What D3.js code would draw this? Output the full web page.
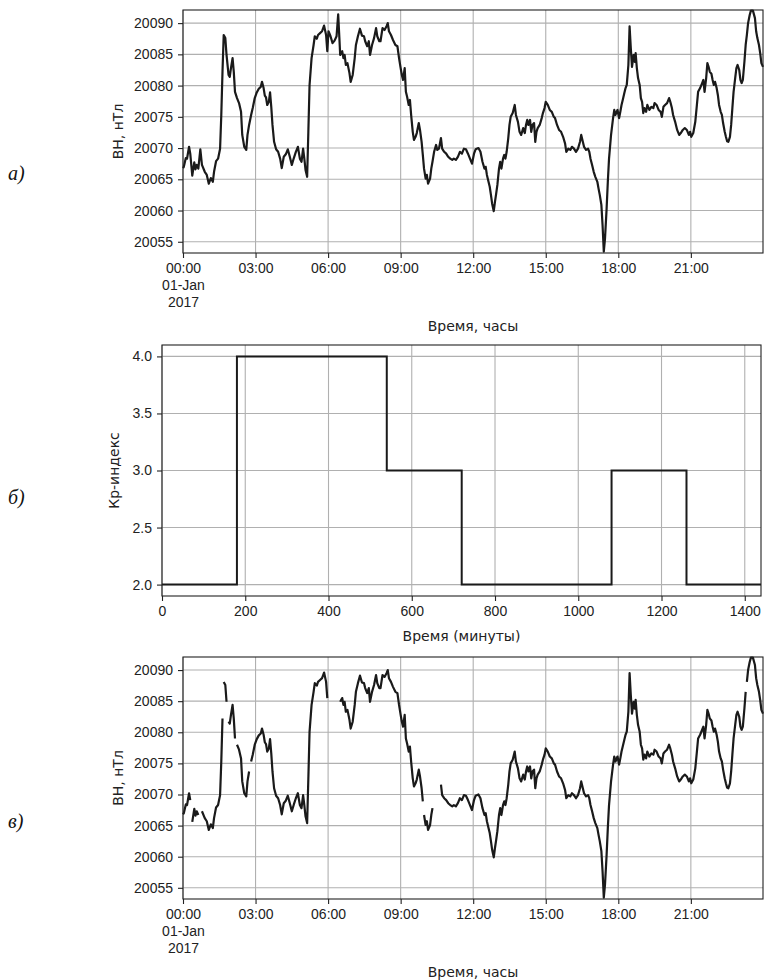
<!DOCTYPE html>
<html>
<head>
<meta charset="utf-8">
<script src="https://cdn.jsdelivr.net/npm/d3@7"></script>
<style>
  body { margin: 0; background: #fff; }
  svg { display: block; font-family: "DejaVu Sans", sans-serif; }
  .tick text { font-size: 14px; fill: #222; }
  .tick line { stroke: #222; stroke-width: 1.1; }
  .domain { display: none; }
  .grid line { stroke: #b0b0b0; stroke-width: 1.1; }
  .spine { fill: none; stroke: #222; stroke-width: 1.1; }
  .label { font-size: 14px; fill: #222; }
  .panel-tag { font-family: "Liberation Serif", serif; font-style: italic; font-size: 20px; fill: #111; }
</style>
</head>
<body>
<script>
// BH readings, [minute of day, nT], read off panel a)
const bhReadings = [
  [0, 20066.8], [2, 20067.0], [7, 20068.4], [10, 20068.3], [15, 20070.2], [18, 20069.1], [23, 20065.6],
  [28, 20067.7], [31, 20066.6], [34, 20067.3], [38, 20066.7], [43, 20069.8], [47, 20067.3], [54, 20066.2],
  [59, 20065.7], [64, 20064.3], [69, 20065.2], [74, 20064.6], [77, 20066.2], [82, 20067.9], [87, 20068.3],
  [92, 20069.9], [95, 20075.3], [98, 20082.2], [101, 20088.1], [105, 20087.6], [108, 20084.9], [113, 20081.7],
  [116, 20081.4], [119, 20082.8], [123, 20084.4], [126, 20082.2], [129, 20079.0], [134, 20078.0], [139, 20077.2],
  [144, 20075.8], [147, 20072.1], [152, 20070.2], [157, 20069.7], [160, 20072.1], [164, 20073.7], [169, 20075.3],
  [173, 20076.4], [178, 20078.0], [183, 20078.9], [188, 20079.5], [193, 20079.8], [196, 20080.6], [200, 20079.6],
  [203, 20078.4], [206, 20078.1], [209, 20076.9], [213, 20077.4], [216, 20078.9], [219, 20076.6], [222, 20073.7],
  [226, 20071.0], [231, 20069.8], [236, 20069.4], [241, 20068.3], [245, 20066.8], [250, 20068.6], [255, 20069.0],
  [260, 20069.8], [265, 20068.6], [270, 20067.3], [275, 20068.4], [280, 20069.4], [285, 20070.2], [290, 20068.3],
  [294, 20067.8], [298, 20069.9], [301, 20068.3], [304, 20066.5], [308, 20065.4], [311, 20072.6], [314, 20080.1],
  [319, 20084.4], [324, 20086.5], [327, 20087.9], [332, 20087.5], [335, 20088.1], [340, 20088.4], [345, 20088.7],
  [350, 20089.6], [355, 20088.1], [358, 20085.5], [361, 20088.7], [366, 20087.9], [371, 20086.8], [376, 20087.2],
  [381, 20087.9], [385, 20091.4], [388, 20087.6], [390, 20084.9], [395, 20085.5], [398, 20084.4], [401, 20084.9],
  [404, 20083.3], [408, 20083.6], [413, 20082.0], [416, 20080.6], [421, 20081.7], [426, 20084.4], [429, 20086.5],
  [434, 20087.9], [439, 20089.1], [444, 20088.0], [449, 20087.9], [452, 20087.1], [457, 20086.3], [461, 20087.1],
  [464, 20084.9], [469, 20086.5], [474, 20087.6], [479, 20089.2], [482, 20087.9], [487, 20087.1], [490, 20087.1],
  [495, 20089.2], [500, 20088.9], [505, 20089.5], [508, 20090.0], [511, 20088.7], [516, 20088.1], [521, 20087.3],
  [527, 20086.5], [532, 20086.3], [536, 20084.4], [540, 20082.8], [543, 20081.7], [546, 20080.9], [550, 20082.8],
  [553, 20079.0], [556, 20078.2], [560, 20076.9], [563, 20077.7], [566, 20075.3], [570, 20072.6], [573, 20071.3],
  [577, 20071.8], [580, 20072.4], [585, 20074.0], [588, 20072.9], [592, 20071.0], [595, 20068.9], [598, 20066.7],
  [602, 20065.1], [605, 20065.7], [608, 20064.3], [613, 20065.1], [616, 20066.7], [619, 20067.8], [623, 20069.4],
  [628, 20070.5], [631, 20069.7], [635, 20069.9], [640, 20071.6], [643, 20069.9], [648, 20069.4], [653, 20069.1],
  [658, 20068.6], [663, 20068.3], [668, 20068.1], [672, 20068.3], [677, 20068.1], [682, 20068.6], [687, 20069.4],
  [692, 20069.1], [697, 20069.9], [702, 20069.8], [707, 20069.1], [712, 20068.3], [717, 20067.5], [722, 20069.1],
  [726, 20069.8], [733, 20070.0], [738, 20069.4], [743, 20067.8], [748, 20066.7], [751, 20067.0], [754, 20065.7],
  [758, 20064.6], [761, 20063.8], [764, 20062.5], [767, 20061.1], [771, 20059.9], [774, 20061.4], [777, 20062.7],
  [780, 20064.1], [784, 20066.7], [787, 20067.8], [790, 20066.7], [794, 20068.3], [797, 20068.9], [800, 20068.3],
  [803, 20069.4], [807, 20071.6], [810, 20073.7], [813, 20075.0], [818, 20075.6], [823, 20076.9], [826, 20075.3],
  [831, 20074.2], [835, 20072.6], [839, 20072.1], [844, 20073.2], [848, 20072.4], [851, 20073.7], [854, 20074.5],
  [857, 20073.7], [861, 20074.5], [864, 20072.6], [867, 20073.7], [871, 20074.0], [874, 20071.0], [877, 20072.6],
  [880, 20073.2], [885, 20073.7], [890, 20074.8], [893, 20075.6], [897, 20076.4], [900, 20077.4], [905, 20076.9],
  [910, 20076.1], [915, 20075.8], [920, 20075.0], [923, 20074.8], [928, 20073.7], [933, 20072.9], [938, 20072.6],
  [943, 20071.8], [948, 20070.7], [951, 20069.4], [956, 20069.9], [961, 20069.7], [965, 20070.2], [970, 20069.9],
  [975, 20069.4], [980, 20069.9], [985, 20071.0], [988, 20072.1], [992, 20071.0], [995, 20070.2], [1000, 20069.7],
  [1005, 20069.9], [1008, 20069.4], [1011, 20068.3], [1015, 20067.3], [1019, 20066.2], [1023, 20065.4], [1028, 20064.6],
  [1031, 20063.5], [1034, 20062.5], [1038, 20060.9], [1041, 20057.6], [1044, 20053.4], [1047, 20055.5], [1051, 20060.3],
  [1054, 20064.6], [1057, 20068.3], [1062, 20072.1], [1067, 20074.8], [1070, 20076.1], [1073, 20075.3], [1078, 20076.1],
  [1082, 20074.8], [1085, 20075.8], [1088, 20076.9], [1091, 20077.7], [1095, 20078.8], [1098, 20079.6], [1101, 20080.1],
  [1105, 20083.3], [1108, 20089.5], [1111, 20086.0], [1114, 20083.0], [1118, 20084.9], [1121, 20083.8], [1123, 20085.2],
  [1126, 20082.8], [1129, 20081.2], [1133, 20080.1], [1136, 20078.0], [1139, 20077.4], [1142, 20075.6], [1145, 20076.4],
  [1149, 20075.8], [1152, 20076.9], [1157, 20076.1], [1162, 20076.6], [1167, 20076.4], [1170, 20077.2], [1175, 20076.9],
  [1180, 20076.1], [1185, 20075.8], [1188, 20075.0], [1192, 20076.6], [1196, 20076.9], [1201, 20077.2], [1206, 20078.0],
  [1209, 20077.4], [1213, 20076.4], [1216, 20075.3], [1221, 20074.2], [1226, 20072.9], [1231, 20072.1], [1235, 20072.4],
  [1240, 20072.9], [1245, 20073.2], [1250, 20072.9], [1255, 20072.1], [1258, 20072.6], [1261, 20071.8], [1266, 20072.4],
  [1271, 20074.2], [1275, 20076.9], [1278, 20079.0], [1283, 20079.6], [1288, 20080.4], [1291, 20080.9], [1294, 20079.0],
  [1298, 20081.2], [1301, 20083.6], [1304, 20083.0], [1307, 20082.2], [1311, 20081.9], [1314, 20080.9], [1317, 20080.1],
  [1320, 20080.6], [1324, 20079.6], [1327, 20078.5], [1330, 20076.9], [1334, 20075.8], [1337, 20075.3], [1340, 20074.0],
  [1344, 20072.6], [1347, 20071.8], [1350, 20071.1], [1353, 20071.0], [1357, 20071.8], [1360, 20073.7], [1363, 20076.4],
  [1366, 20079.0], [1370, 20081.2], [1373, 20082.8], [1376, 20083.3], [1380, 20082.5], [1383, 20080.9], [1386, 20080.4],
  [1389, 20080.9], [1393, 20083.9], [1396, 20086.5], [1399, 20088.1], [1402, 20090.0], [1406, 20091.3], [1409, 20092.0],
  [1414, 20092.0], [1419, 20090.8], [1422, 20088.7], [1425, 20087.6], [1429, 20086.5], [1432, 20085.2], [1435, 20083.6],
  [1439, 20083.0],
];

// missing stretches in panel в), [from, to] minutes (exclusive)
const bhGaps = [
  [18, 21], [38, 47], [98, 101], [108, 113], [129, 134], [164, 169],
  [358, 390], [595, 598], [619, 640], [1396, 1399],
];

// Kp index, 3-hour intervals
const kpStartMinutes = [0, 180, 540, 720, 1080, 1260];
const kpValues = [2, 4, 3, 2, 3, 2];
const kpEndMinute = 1439;

const bhTicks = [20055, 20060, 20065, 20070, 20075, 20080, 20085, 20090];
const hourTicks = [0, 3, 6, 9, 12, 15, 18, 21];
const kpTicks = [2.0, 2.5, 3.0, 3.5, 4.0];
const minuteTicks = [0, 200, 400, 600, 800, 1000, 1200, 1400];

const svg = d3.select('body').append('svg')
  .attr('width', 764)
  .attr('height', 980);

const day = new Date(2017, 0, 1, 0, 0);
const toDate = m => new Date(day.getTime() + m * 60000);

function drawFrame(box, x, y, xTickValues, yTickValues, xFormat, yFormat, id) {
  const g = svg.append('g');

  g.append('clipPath').attr('id', id)
    .append('rect')
    .attr('x', box.left).attr('y', box.top)
    .attr('width', box.right - box.left)
    .attr('height', box.bottom - box.top);

  const grid = g.append('g').attr('class', 'grid');
  grid.selectAll('.gx').data(xTickValues).enter().append('line')
    .attr('x1', d => x(d)).attr('x2', d => x(d))
    .attr('y1', box.top).attr('y2', box.bottom);
  grid.selectAll('.gy').data(yTickValues).enter().append('line')
    .attr('x1', box.left).attr('x2', box.right)
    .attr('y1', d => y(d)).attr('y2', d => y(d));

  g.append('g')
    .attr('transform', `translate(0,${box.bottom})`)
    .call(d3.axisBottom(x).tickValues(xTickValues).tickFormat(xFormat)
      .tickSize(5).tickPadding(5).tickSizeOuter(0));

  g.append('g')
    .attr('transform', `translate(${box.left},0)`)
    .call(d3.axisLeft(y).tickValues(yTickValues).tickFormat(yFormat)
      .tickSize(5).tickPadding(5).tickSizeOuter(0));

  return g;
}

function drawSpines(box) {
  svg.append('rect')
    .attr('class', 'spine')
    .attr('x', box.left).attr('y', box.top)
    .attr('width', box.right - box.left)
    .attr('height', box.bottom - box.top);
}

function addDateLines(g) {
  // first time tick carries the date under it
  const first = g.selectAll('.tick text').filter((d, i) => i === 0);
  first.text(null);
  ['00:00', '01-Jan', '2017'].forEach((t, i) => {
    first.append('tspan')
      .attr('x', 0)
      .attr('dy', i === 0 ? '0.71em' : '1.2em')
      .text(t);
  });
}

function bhPanel(box, readings, tag, tagY) {
  const x = d3.scaleTime()
    .domain([toDate(0), toDate(1439)])
    .range([box.left, box.right]);
  const y = d3.scaleLinear()
    .domain([20053.2, 20092.1])
    .range([box.bottom, box.top]);

  const id = 'clip-' + tag;
  const g = drawFrame(box, x, y, hourTicks.map(h => toDate(h * 60)), bhTicks,
    d3.timeFormat('%H:%M'), d3.format('d'), id);
  addDateLines(g);

  const line = d3.line()
    .defined(d => d[1] !== null)
    .x(d => x(toDate(d[0])))
    .y(d => y(d[1]));

  svg.append('path')
    .datum(readings)
    .attr('clip-path', `url(#${id})`)
    .attr('fill', 'none')
    .attr('stroke', '#1a1a1a')
    .attr('stroke-width', 2.2)
    .attr('stroke-linejoin', 'round')
    .attr('d', line);

  drawSpines(box);

  svg.append('text')
    .attr('class', 'label')
    .attr('text-anchor', 'middle')
    .attr('transform', `translate(118,${(box.top + box.bottom) / 2}) rotate(-90)`)
    .attr('dy', '0.35em')
    .text('BH, нТл');

  svg.append('text')
    .attr('class', 'label')
    .attr('text-anchor', 'middle')
    .attr('x', (box.left + box.right) / 2)
    .attr('y', box.bottom + 78)
    .text('Время, часы');

  svg.append('text')
    .attr('class', 'panel-tag')
    .attr('x', 8)
    .attr('y', tagY)
    .text(tag);
}

// a) full record
const boxA = { left: 183, right: 763, top: 10, bottom: 253 };
bhPanel(boxA, bhReadings, 'а)', 180);

// б) Kp index
const boxB = { left: 162, right: 761, top: 345, bottom: 596 };
const xKp = d3.scaleLinear().domain([0, 1439]).range([boxB.left, boxB.right]);
const yKp = d3.scaleLinear().domain([1.9, 4.1]).range([boxB.bottom, boxB.top]);

drawFrame(boxB, xKp, yKp, minuteTicks, kpTicks, d3.format('d'), d3.format('.1f'), 'clip-kp');

const kpPoints = kpStartMinutes.map((m, i) => [m, kpValues[i]])
  .concat([[kpEndMinute, kpValues[kpValues.length - 1]]]);

svg.append('path')
  .datum(kpPoints)
  .attr('fill', 'none')
  .attr('stroke', '#1a1a1a')
  .attr('stroke-width', 2)
  .attr('d', d3.line().curve(d3.curveStepAfter).x(d => xKp(d[0])).y(d => yKp(d[1])));

drawSpines(boxB);

svg.append('text')
  .attr('class', 'label')
  .attr('text-anchor', 'middle')
  .attr('transform', `translate(114,${(boxB.top + boxB.bottom) / 2}) rotate(-90)`)
  .attr('dy', '0.35em')
  .text('Кр-индекс');

svg.append('text')
  .attr('class', 'label')
  .attr('text-anchor', 'middle')
  .attr('x', (boxB.left + boxB.right) / 2)
  .attr('y', 641)
  .text('Время (минуты)');

svg.append('text')
  .attr('class', 'panel-tag')
  .attr('x', 8)
  .attr('y', 504)
  .text('б)');

// в) same record with the missing stretches
const gapped = bhReadings
  .filter(d => !bhGaps.some(([a, b]) => d[0] > a && d[0] < b))
  .concat(bhGaps.map(([a, b]) => [(a + b) / 2, null]))
  .sort((p, q) => p[0] - q[0]);

const boxC = { left: 183, right: 763, top: 657, bottom: 899 };
bhPanel(boxC, gapped, 'в)', 828);
</script>
</body>
</html>
